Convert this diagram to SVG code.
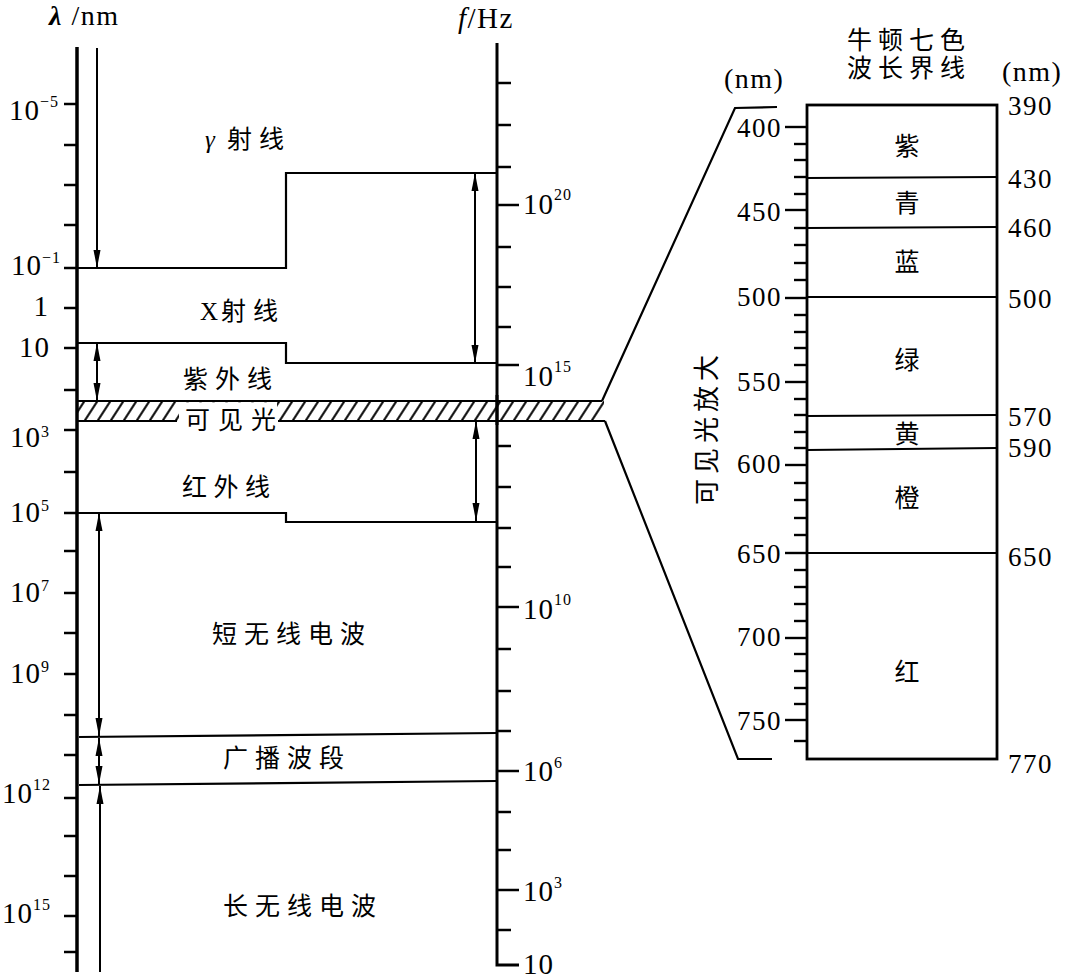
<svg xmlns="http://www.w3.org/2000/svg" width="1067" height="979" viewBox="0 0 1067 979">
<style>
.num{font-family:"Liberation Serif",serif;font-size:29px;fill:#000;letter-spacing:1px}
.rn{font-family:"Liberation Serif",serif;font-size:27px;fill:#000;letter-spacing:1.5px}
.cjk{font-family:"Liberation Serif","Noto Sans CJK SC",sans-serif;font-size:25px;fill:#000;letter-spacing:7px}
.ch{font-family:"Noto Sans CJK SC",sans-serif;font-size:25px;fill:#000}
.ax{stroke:#000;stroke-width:3.5;fill:none}
.ln{stroke:#000;stroke-width:2.2;fill:none}
.tk{stroke:#000;stroke-width:2.5}
.ar{stroke:#000;stroke-width:2}
</style>
<defs>
<marker id="ah" viewBox="0 0 18 8" refX="18" refY="4" markerWidth="18" markerHeight="8" markerUnits="userSpaceOnUse" orient="auto-start-reverse">
<path d="M0,0.5 L18,4 L0,7.5 z" fill="#000"/>
</marker>
<pattern id="hatch" patternUnits="userSpaceOnUse" width="13" height="20" patternTransform="translate(0,401) skewX(-33)">
<line x1="6.5" y1="-2" x2="6.5" y2="22" stroke="#000" stroke-width="2.4"/>
</pattern>
</defs>

<g id="headers">
<text class="num" x="49" y="25" style="font-size:28px;letter-spacing:1.5px"><tspan font-weight="bold" font-style="italic">λ</tspan> /nm</text>
<text class="num" x="458" y="28" style="font-size:29px;letter-spacing:1.5px"><tspan font-style="italic">f</tspan>/Hz</text>
</g>

<g id="wavelength-axis">
<path class="ax" d="M77,47 V972"/>
<g class="tk">
<line x1="64" y1="104" x2="77" y2="104"/><line x1="64" y1="145" x2="77" y2="145"/><line x1="64" y1="185" x2="77" y2="185"/><line x1="64" y1="225" x2="77" y2="225"/><line x1="64" y1="268" x2="77" y2="268"/><line x1="64" y1="308" x2="77" y2="308"/><line x1="64" y1="348" x2="77" y2="348"/><line x1="64" y1="390" x2="77" y2="390"/><line x1="64" y1="430" x2="77" y2="430"/><line x1="64" y1="472" x2="77" y2="472"/><line x1="64" y1="513" x2="77" y2="513"/><line x1="64" y1="551" x2="77" y2="551"/><line x1="64" y1="593" x2="77" y2="593"/><line x1="64" y1="633" x2="77" y2="633"/><line x1="64" y1="674" x2="77" y2="674"/><line x1="64" y1="715" x2="77" y2="715"/><line x1="64" y1="755" x2="77" y2="755"/><line x1="64" y1="798" x2="77" y2="798"/><line x1="64" y1="836" x2="77" y2="836"/><line x1="64" y1="876" x2="77" y2="876"/><line x1="64" y1="916" x2="77" y2="916"/><line x1="64" y1="952" x2="77" y2="952"/>
</g>
<g class="num" text-anchor="end">
<text x="59" y="120">10<tspan dy="-13" font-size="16">−5</tspan></text>
<text x="61" y="275">10<tspan dy="-12" font-size="16">−1</tspan></text>
<text x="49" y="316">1</text>
<text x="50" y="357">10</text>
<text x="50" y="447">10<tspan dy="-10" font-size="16">3</tspan></text>
<text x="50" y="522">10<tspan dy="-11" font-size="16">5</tspan></text>
<text x="50" y="602">10<tspan dy="-11" font-size="16">7</tspan></text>
<text x="50" y="683">10<tspan dy="-11" font-size="16">9</tspan></text>
<text x="51" y="803">10<tspan dy="-13" font-size="16">12</tspan></text>
<text x="51" y="923">10<tspan dy="-13" font-size="16">15</tspan></text>
</g>
</g>

<g id="frequency-axis">
<path class="ax" d="M497,43 V965 H519" style="stroke-width:3"/>
<g class="tk">
<line x1="497" y1="83" x2="511" y2="83"/><line x1="497" y1="125" x2="511" y2="125"/><line x1="497" y1="167" x2="511" y2="167"/><line x1="497" y1="205" x2="519" y2="205"/><line x1="497" y1="247" x2="511" y2="247"/><line x1="497" y1="287" x2="511" y2="287"/><line x1="497" y1="327" x2="511" y2="327"/><line x1="497" y1="365" x2="519" y2="365"/><line x1="497" y1="446" x2="511" y2="446"/><line x1="497" y1="487" x2="511" y2="487"/><line x1="497" y1="528" x2="511" y2="528"/><line x1="497" y1="567" x2="511" y2="567"/><line x1="497" y1="607" x2="519" y2="607"/><line x1="497" y1="649" x2="511" y2="649"/><line x1="497" y1="691" x2="511" y2="691"/><line x1="497" y1="731" x2="511" y2="731"/><line x1="497" y1="771" x2="519" y2="771"/><line x1="497" y1="812" x2="511" y2="812"/><line x1="497" y1="850" x2="511" y2="850"/><line x1="497" y1="890" x2="519" y2="890"/><line x1="497" y1="930" x2="511" y2="930"/>
</g>
<g class="num">
<text x="523" y="214">10<tspan dy="-14" font-size="16">20</tspan></text>
<text x="523" y="386">10<tspan dy="-14" font-size="16">15</tspan></text>
<text x="523" y="619">10<tspan dy="-14" font-size="16">10</tspan></text>
<text x="523" y="781">10<tspan dy="-13" font-size="16">6</tspan></text>
<text x="523" y="901">10<tspan dy="-13" font-size="16">3</tspan></text>
<text x="523" y="974">10</text>
</g>
</g>

<g id="band-gamma">
<text class="cjk" x="205" y="148" font-style="italic" style="letter-spacing:0">γ</text>
<text class="cjk" x="227" y="148">射线</text>
</g>
<g id="band-xray">
<path class="ln" d="M77,268 H286 V173 H497"/>
<text class="cjk" x="200" y="320" style="letter-spacing:0">X</text>
<text class="cjk" x="221" y="320">射线</text>
</g>
<g id="band-uv">
<path class="ln" d="M77,343 H286 V363 H497"/>
<text class="cjk" x="183" y="388">紫外线</text>
</g>
<g id="band-visible">
<rect x="77" y="401" width="527" height="20" fill="url(#hatch)"/>
<rect x="179" y="402.3" width="98" height="21" fill="#fff"/>
<path class="ln" d="M77,401 H602 M77,421 H177 M278,421 H605"/>
<path class="ax" d="M497,395 V425" style="stroke-width:3"/>
<text class="cjk" x="185" y="429" style="letter-spacing:8px">可见光</text>
</g>
<g id="band-ir">
<text class="cjk" x="182" y="496" style="letter-spacing:6.5px">红外线</text>
</g>
<g id="band-shortwave">
<path class="ln" d="M77,513 H286 V522 H497"/>
<text class="cjk" x="212" y="643">短无线电波</text>
</g>
<g id="band-broadcast">
<path class="ln" d="M79,737 L497,733"/>
<path class="ln" d="M79,785 L497,781"/>
<text class="cjk" x="223" y="767">广播波段</text>
</g>
<g id="band-longwave">
<text class="cjk" x="223" y="915">长无线电波</text>
</g>

<g id="connectors">
<line class="ar" x1="97" y1="48" x2="97" y2="268" marker-end="url(#ah)"/>
<line class="ar" x1="475" y1="173" x2="475" y2="363" marker-start="url(#ah)" marker-end="url(#ah)"/>
<line class="ar" x1="97" y1="343" x2="97" y2="401" marker-start="url(#ah)" marker-end="url(#ah)"/>
<line class="ar" x1="476" y1="421" x2="476" y2="521" marker-start="url(#ah)" marker-end="url(#ah)"/>
<line class="ar" x1="99" y1="513" x2="99" y2="736" marker-start="url(#ah)" marker-end="url(#ah)"/>
<line class="ar" x1="99" y1="738" x2="99" y2="784" marker-start="url(#ah)" marker-end="url(#ah)"/>
<line class="ar" x1="100" y1="786" x2="100" y2="972" marker-start="url(#ah)"/>
<polyline class="ln" points="602,401 735,108 777,107"/>
<polyline class="ln" points="605,421 738,759 772,759"/>
</g>

<g id="visible-zoom">
<text class="ch" x="847" y="49" style="letter-spacing:6px">牛顿七色<tspan x="847" dy="28">波长界线</tspan></text>
<text class="num" x="724" y="88" style="font-size:28px;letter-spacing:1.5px">(nm)</text>
<text class="num" x="1002" y="81" style="font-size:28px;letter-spacing:1.5px">(nm)</text>
<text class="ch" transform="translate(716,428) rotate(-90)" x="-77" y="0" style="font-size:26px;letter-spacing:5px">可见光放大</text>
<rect x="807" y="105" width="190" height="654" fill="none" stroke="#000" stroke-width="2.8"/>
<g class="ln">
<line x1="807" y1="178" x2="997" y2="177"/>
<line x1="807" y1="228" x2="997" y2="227"/>
<line x1="807" y1="297" x2="997" y2="297"/>
<line x1="807" y1="416" x2="997" y2="415"/>
<line x1="807" y1="450" x2="997" y2="448"/>
<line x1="807" y1="553" x2="997" y2="553"/>
</g>
<g class="tk" style="stroke-width:2.4">
<line x1="785" y1="127" x2="807" y2="127"/><line x1="794" y1="144" x2="807" y2="144"/><line x1="794" y1="160" x2="807" y2="160"/><line x1="794" y1="177" x2="807" y2="177"/><line x1="794" y1="194" x2="807" y2="194"/>
<line x1="785" y1="210" x2="807" y2="210"/><line x1="794" y1="228" x2="807" y2="228"/><line x1="794" y1="245" x2="807" y2="245"/><line x1="794" y1="263" x2="807" y2="263"/><line x1="794" y1="280" x2="807" y2="280"/>
<line x1="785" y1="298" x2="807" y2="298"/><line x1="794" y1="315" x2="807" y2="315"/><line x1="794" y1="332" x2="807" y2="332"/><line x1="794" y1="348" x2="807" y2="348"/><line x1="794" y1="365" x2="807" y2="365"/>
<line x1="785" y1="382" x2="807" y2="382"/><line x1="794" y1="399" x2="807" y2="399"/><line x1="794" y1="415" x2="807" y2="415"/><line x1="794" y1="432" x2="807" y2="432"/><line x1="794" y1="448" x2="807" y2="448"/>
<line x1="785" y1="465" x2="807" y2="465"/><line x1="794" y1="483" x2="807" y2="483"/><line x1="794" y1="500" x2="807" y2="500"/><line x1="794" y1="518" x2="807" y2="518"/><line x1="794" y1="535" x2="807" y2="535"/>
<line x1="785" y1="553" x2="807" y2="553"/><line x1="794" y1="570" x2="807" y2="570"/><line x1="794" y1="587" x2="807" y2="587"/><line x1="794" y1="604" x2="807" y2="604"/><line x1="794" y1="621" x2="807" y2="621"/>
<line x1="785" y1="638" x2="807" y2="638"/><line x1="794" y1="654" x2="807" y2="654"/><line x1="794" y1="671" x2="807" y2="671"/><line x1="794" y1="688" x2="807" y2="688"/><line x1="794" y1="704" x2="807" y2="704"/>
<line x1="785" y1="720" x2="807" y2="720"/><line x1="794" y1="741" x2="807" y2="741"/>
</g>
<g class="rn" text-anchor="end">
<text x="782" y="137">400</text>
<text x="782" y="221">450</text>
<text x="782" y="306">500</text>
<text x="782" y="391">550</text>
<text x="782" y="473">600</text>
<text x="782" y="563">650</text>
<text x="782" y="646">700</text>
<text x="782" y="730">750</text>
</g>
<g class="rn">
<text x="1008" y="115">390</text>
<text x="1008" y="188">430</text>
<text x="1008" y="237">460</text>
<text x="1008" y="308">500</text>
<text x="1008" y="426">570</text>
<text x="1008" y="457">590</text>
<text x="1008" y="566">650</text>
<text x="1008" y="773">770</text>
</g>
<g class="ch" text-anchor="middle">
<text x="907" y="155">紫</text>
<text x="907" y="212">青</text>
<text x="907" y="271">蓝</text>
<text x="907" y="369">绿</text>
<text x="907" y="443">黄</text>
<text x="907" y="507">橙</text>
<text x="907" y="681">红</text>
</g>
</g>
</svg>
